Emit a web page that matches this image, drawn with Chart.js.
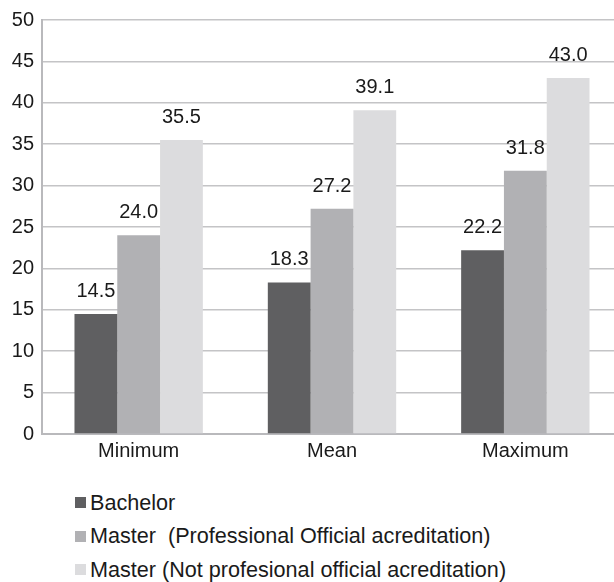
<!DOCTYPE html>
<html>
<head>
<meta charset="utf-8">
<script src="https://cdn.jsdelivr.net/npm/chart.js@4/dist/chart.umd.min.js"></script>
<style>
  html, body { margin: 0; padding: 0; background: #fff; overflow: hidden; }
  #wrap { position: relative; width: 622px; height: 470px; }
  #legend { position: absolute; left: 75px; top: 486px; font-family: "Liberation Sans", Arial, sans-serif; font-size: 21.6px; color: #1a1a1a; }
  #legend div { white-space: pre; display: flex; align-items: center; height: 33.5px; }
  #legend span.sw { display: inline-block; width: 11px; height: 11px; margin-right: 4px; }
</style>
</head>
<body>
<div id="wrap"><canvas id="c"></canvas></div>
<div id="legend"></div>
<script>
const categories = ["Minimum", "Mean", "Maximum"];
const seriesNames = [
  "Bachelor",
  "Master  (Professional Official acreditation)",
  "Master (Not profesional official acreditation)"
];
const bachelor = [14.5, 18.3, 22.2];
const masterProfessional = [24.0, 27.2, 31.8];
const masterNotProfessional = [35.5, 39.1, 43.0];
const seriesColors = ["#5f5f61", "#b1b1b4", "#dcdcde"];
const yTicks = [0, 5, 10, 15, 20, 25, 30, 35, 40, 45, 50];

const FONT = '"Liberation Sans", Arial, sans-serif';

// value labels above each bar
const valueLabels = {
  id: "valueLabels",
  afterDatasetsDraw(chart) {
    const ctx = chart.ctx;
    ctx.save();
    ctx.font = "20px " + FONT;
    ctx.fillStyle = "#1a1a1a";
    ctx.textAlign = "center";
    ctx.textBaseline = "alphabetic";
    chart.data.datasets.forEach((ds, i) => {
      chart.getDatasetMeta(i).data.forEach((bar, j) => {
        ctx.fillText(ds.data[j].toFixed(1), bar.x, bar.y - 17);
      });
    });
    ctx.restore();
  }
};

const values = [bachelor, masterProfessional, masterNotProfessional];

new Chart(document.getElementById("c"), {
  type: "bar",
  data: {
    labels: categories,
    datasets: values.map((v, i) => ({
      label: seriesNames[i],
      data: v,
      backgroundColor: seriesColors[i],
      borderWidth: 0,
      categoryPercentage: 0.664,
      barPercentage: 1.0
    }))
  },
  options: {
    responsive: true,
    maintainAspectRatio: false,
    animation: false,
    layout: { padding: { top: 19, left: 0, right: 0, bottom: 0 } },
    plugins: { legend: { display: false }, tooltip: { enabled: false } },
    scales: {
      x: {
        grid: { display: false, drawTicks: false },
        border: { color: "#b9b9bc", width: 2 },
        ticks: { color: "#1a1a1a", font: { family: FONT, size: 20 }, padding: 5 },
        afterFit(s) { s.height = 36; }
      },
      y: {
        min: 0, max: 50,
        afterBuildTicks(s) { s.ticks = yTicks.map(v => ({ value: v })); },
        grid: { color: "#c4c4c6", lineWidth: 1.5, drawTicks: false },
        border: { color: "#b9b9bc", width: 2 },
        ticks: { color: "#1a1a1a", font: { family: FONT, size: 20 }, padding: 8 },
        afterFit(s) { s.width = 42; }
      }
    }
  },
  plugins: [valueLabels]
});

const legend = document.getElementById("legend");
seriesNames.forEach((name, i) => {
  const row = document.createElement("div");
  const sw = document.createElement("span");
  sw.className = "sw";
  sw.style.background = seriesColors[i];
  row.appendChild(sw);
  row.appendChild(document.createTextNode(name));
  legend.appendChild(row);
});
</script>
</body>
</html>
